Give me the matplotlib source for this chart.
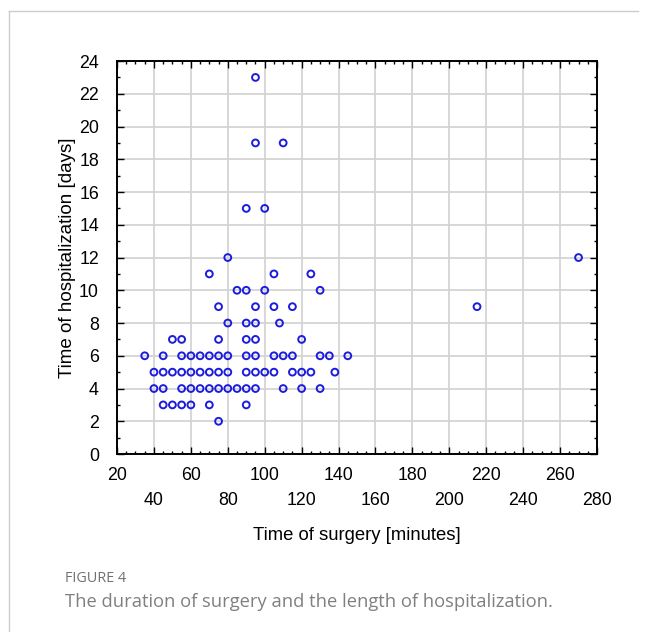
import matplotlib
matplotlib.use("Agg")
import matplotlib.pyplot as plt
from matplotlib.lines import Line2D
from matplotlib.ticker import MultipleLocator
import numpy as np

# Time of surgery [minutes] and time of hospitalization [days], one entry per patient
surgery_min = [
    95, 95, 110, 90, 100, 80, 270,
    70, 105, 125,
    85, 90, 100, 130,
    75, 95, 105, 115, 215,
    80, 90, 95, 108,
    50, 55, 75, 90, 95, 120,
    35, 45, 55, 60, 65, 70, 75, 80, 90, 95, 105, 110, 115, 130, 135, 145,
    40, 45, 50, 55, 60, 65, 70, 75, 80, 90, 95, 100, 105, 115, 120, 125, 138,
    40, 45, 55, 60, 65, 70, 75, 80, 85, 90, 95, 110, 120, 130,
    45, 50, 55, 60, 70, 90,
    75,
]
hospital_days = (
    [23, 19, 19, 15, 15, 12, 12]
    + [11] * 3
    + [10] * 4
    + [9] * 5
    + [8] * 4
    + [7] * 6
    + [6] * 16
    + [5] * 17
    + [4] * 14
    + [3] * 6
    + [2]
)

x_ticks = list(range(20, 281, 20))
x_labels = [str(v) if i % 2 == 0 else "\n" + str(v) for i, v in enumerate(x_ticks)]

plt.rcParams["font.family"] = ["Liberation Sans", "DejaVu Sans"]

fig = plt.figure(figsize=(6.48, 6.32), dpi=100)
ax = fig.add_axes([0.1806, 0.2816, 0.7407, 0.6218])

ax.scatter(surgery_min, hospital_days, s=24, facecolors="none",
           edgecolors="#1c1cdc", linewidths=1.4, zorder=3)

ax.set_xlim(20, 280)
ax.set_ylim(0, 24)
ax.set_xticks(x_ticks)
ax.set_xticklabels(x_labels, fontsize=12.8, linespacing=1.65)
ax.set_yticks(range(0, 25, 2))
ax.tick_params(axis="y", labelsize=12.8)
ax.xaxis.set_minor_locator(MultipleLocator(5))
ax.yaxis.set_minor_locator(MultipleLocator(1))
ax.tick_params(which="both", direction="in", top=True, right=True,
               color="black", width=1.0)
ax.tick_params(which="major", length=5)
ax.tick_params(which="minor", length=2.5)
ax.tick_params(axis="x", which="major", pad=9)
ax.tick_params(axis="y", which="major", pad=13)
ax.grid(True, which="major", color="#d4d4d4", lw=1.3, zorder=0)
ax.set_axisbelow(True)
for sp in ax.spines.values():
    sp.set_linewidth(1.4)

ax.set_xlabel("Time of surgery [minutes]", fontsize=13.3, labelpad=13)
ax.set_ylabel("Time of hospitalization [days]", fontsize=13.5, labelpad=2)

# figure frame (top and left rules)
fig.add_artist(Line2D([9 / 648, 638 / 648], [1 - 11 / 632, 1 - 11 / 632],
                      color="#cccccc", lw=1.0, transform=fig.transFigure))
fig.add_artist(Line2D([9 / 648, 9 / 648], [0, 1 - 11 / 632],
                      color="#cccccc", lw=1.0, transform=fig.transFigure))

fig.text(65 / 648, 1 - 578 / 632, "FIGURE 4", fontsize=10.4,
         family=["Open Sans", "DejaVu Sans"], color="#707070", va="center")
fig.text(65 / 648, 1 - 602 / 632,
         "The duration of surgery and the length of hospitalization.",
         fontsize=13.2, family=["Open Sans", "DejaVu Sans"], color="#808080",
         va="center")

fig.savefig("out.png", dpi=100)
